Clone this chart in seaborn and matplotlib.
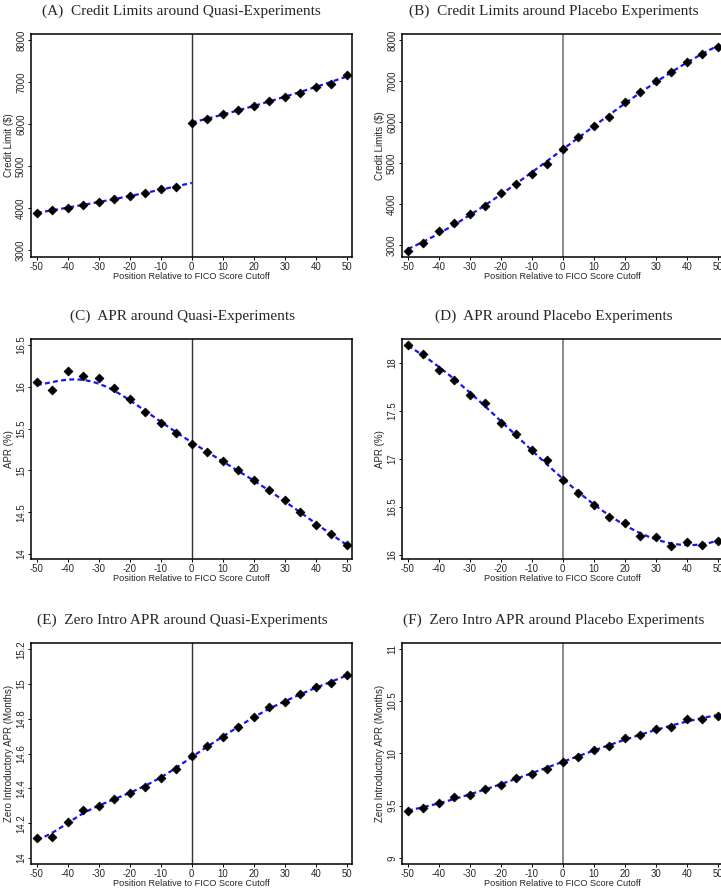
import numpy as np
import pandas as pd
import matplotlib
matplotlib.use("Agg")
import matplotlib.pyplot as plt
import seaborn as sns

# ---------------- data ----------------
position = [-50, -45, -40, -35, -30, -25, -20, -15, -10, -5, 0,
            5, 10, 15, 20, 25, 30, 35, 40, 45, 50]

credit_quasi = [3889, 3952, 4000, 4063, 4135, 4222, 4286, 4365, 4452, 4500, 6024,
                6119, 6238, 6333, 6437, 6548, 6643, 6746, 6889, 6960, 7167]
credit_placebo = [2869, 3057, 3351, 3546, 3750, 3962, 4264, 4501, 4746, 4982, 5349,
                  5635, 5896, 6132, 6483, 6728, 7013, 7217, 7470, 7649, 7837]
apr_quasi = [16.054, 15.963, 16.193, 16.130, 16.106, 15.982, 15.859, 15.704, 15.572, 15.453, 15.318,
             15.222, 15.111, 15.003, 14.880, 14.760, 14.649, 14.502, 14.346, 14.239, 14.111]
apr_placebo = [18.188, 18.094, 17.930, 17.819, 17.669, 17.582, 17.376, 17.254, 17.087, 16.986, 16.774,
               16.641, 16.516, 16.397, 16.331, 16.199, 16.181, 16.091, 16.132, 16.101, 16.146]
zero_quasi = [14.115, 14.122, 14.206, 14.275, 14.300, 14.340, 14.373, 14.411, 14.460, 14.512, 14.585,
              14.644, 14.697, 14.755, 14.812, 14.867, 14.898, 14.942, 14.984, 15.009, 15.051]
zero_placebo = [9.451, 9.476, 9.527, 9.578, 9.606, 9.660, 9.702, 9.765, 9.806, 9.854, 9.914,
                9.968, 10.032, 10.067, 10.149, 10.171, 10.232, 10.248, 10.327, 10.330, 10.359]

titles = ["(A)  Credit Limits around Quasi-Experiments",
          "(B)  Credit Limits around Placebo Experiments",
          "(C)  APR around Quasi-Experiments",
          "(D)  APR around Placebo Experiments",
          "(E)  Zero Intro APR around Quasi-Experiments",
          "(F)  Zero Intro APR around Placebo Experiments"]
ylabels = ["Credit Limit (\\$)", "Credit Limits (\\$)", "APR (%)", "APR (%)",
           "Zero Introductory APR (Months)", "Zero Introductory APR (Months)"]
xlabel = "Position Relative to FICO Score Cutoff"
xticks = [-50, -40, -30, -20, -10, 0, 10, 20, 30, 40, 50]
yticks_list = [[3000, 4000, 5000, 6000, 7000, 8000],
               [3000, 4000, 5000, 6000, 7000, 8000],
               [14, 14.5, 15, 15.5, 16, 16.5],
               [16, 16.5, 17, 17.5, 18],
               [14, 14.2, 14.4, 14.6, 14.8, 15, 15.2],
               [9, 9.5, 10, 10.5, 11]]
ytick_labels = [["3000", "4000", "5000", "6000", "7000", "8000"],
                ["3000", "4000", "5000", "6000", "7000", "8000"],
                ["14", "14.5", "15", "15.5", "16", "16.5"],
                ["16", "16.5", "17", "17.5", "18"],
                ["14", "14.2", "14.4", "14.6", "14.8", "15", "15.2"],
                ["9", "9.5", "10", "10.5", "11"]]
series = [credit_quasi, credit_placebo, apr_quasi, apr_placebo, zero_quasi, zero_placebo]
# ("poly", order) or ("local", bandwidth)
fit_kind = [("poly", 2), ("poly", 3), ("local", 8.0), ("poly", 3), ("local", 5.5), ("poly", 3)]


def local_linear(xs, ys, grid, h):
    xs = np.asarray(xs, float)
    ys = np.asarray(ys, float)
    out = []
    for g in grid:
        w = np.exp(-0.5 * ((xs - g) / h) ** 2)
        X = np.column_stack([np.ones_like(xs), xs - g])
        WX = X * w[:, None]
        beta = np.linalg.solve(X.T @ WX, WX.T @ ys)
        out.append(beta[0])
    return np.array(out)


# ---------------- layout ----------------
W, H = 721, 890
fig = plt.figure(figsize=(W / 100, H / 100), dpi=100)
sns.set_style("white")

col_x = [(31, 352), (402, 723)]
row_y = [(34, 257), (339, 559), (643, 864)]
ylims = [(2833, 8143), (2714, 8147), (13.94, 16.572), (15.955, 18.25), (13.966, 15.236), (8.943, 11.053)]
title_pos = [(181.5, 14.5), (553.7, 14.5), (182, 320), (553.7, 319.5), (182.3, 624.3), (553.8, 624)]

tick_font = dict(family="Liberation Sans", size=6.9)
for i in range(6):
    r, c = divmod(i, 2)
    x0, x1 = col_x[c]
    yt, yb = row_y[r]
    ax = fig.add_axes([x0 / W, 1 - yb / H, (x1 - x0) / W, (yb - yt) / H])
    df = pd.DataFrame({"pos": position, "val": series[i]})

    ax.axvline(0, color="#333333" if c == 0 else "#8a8a8a", lw=1.0 if c == 0 else 1.4, zorder=1)

    # fitted curves
    if i == 0:
        parts = [(df[df.pos < 0], -50, 0), (df[df.pos >= 0], 0, 50)]
    else:
        parts = [(df, -50, 50)]
    for sub, a, b in parts:
        xg = np.linspace(a, b, 200)
        kind, p = fit_kind[i]
        if kind == "poly":
            yg = np.polyval(np.polyfit(sub.pos, sub.val, p), xg)
        else:
            yg = local_linear(sub.pos, sub.val, xg, p)
        fit_df = pd.DataFrame({"pos": xg, "fit": yg})
        sns.lineplot(data=fit_df, x="pos", y="fit", ax=ax, color="#1414f5", lw=1.6, zorder=2)
        ax.lines[-1].set_dashes([2.2, 1.5])

    sns.scatterplot(data=df, x="pos", y="val", ax=ax, marker="D", color="black",
                    s=20, edgecolor="black", linewidth=0.6, zorder=3)

    ax.set_xlim(-51.9, 51.7)
    ax.set_ylim(*ylims[i])
    ax.set_xticks(xticks)
    ax.set_xticklabels([str(t) for t in xticks], fontdict=tick_font)
    ax.set_yticks(yticks_list[i])
    ax.set_yticklabels(ytick_labels[i], fontdict=tick_font, rotation=90, va="center")
    ax.tick_params(axis="both", which="major", direction="out", length=2.3, width=0.7,
                   color="black", pad=1.2, left=True, bottom=True)
    ax.set_xlabel(xlabel, family="Liberation Sans", size=6.6, labelpad=0.3)
    ax.set_ylabel(ylabels[i], family="Liberation Sans", size=7.0)
    ax.yaxis.set_label_coords(-0.052, 0.5)
    for sp in ax.spines.values():
        sp.set_visible(True)
        sp.set_color("black")
        sp.set_linewidth(1.1)
    tx, ty = title_pos[i]
    fig.text(tx / W, 1 - ty / H, titles[i], ha="center", va="baseline",
             family="Liberation Serif", size=11)

fig.savefig("out.png", dpi=100, facecolor="white")
